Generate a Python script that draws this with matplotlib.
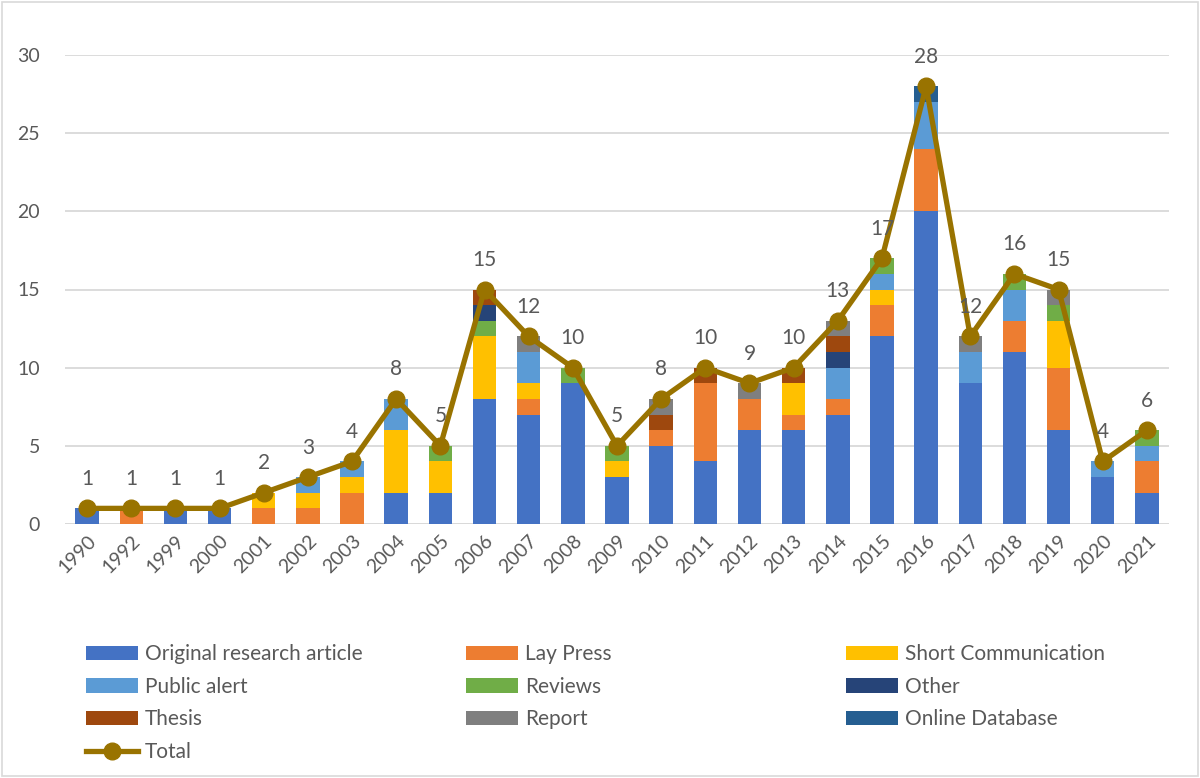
import numpy as np
import matplotlib
matplotlib.use('Agg')
import matplotlib.pyplot as plt
from matplotlib.patches import Patch, Rectangle
from matplotlib.lines import Line2D

plt.rcParams['font.family'] = ['Lato', 'DejaVu Sans']

years = ['1990', '1992', '1999', '2000', '2001', '2002', '2003', '2004', '2005', '2006',
         '2007', '2008', '2009', '2010', '2011', '2012', '2013', '2014', '2015', '2016',
         '2017', '2018', '2019', '2020', '2021']

original = [1, 0, 1, 1, 0, 0, 0, 2, 2, 8, 7, 9, 3, 5, 4, 6, 6, 7, 12, 20, 9, 11, 6, 3, 2]
lay_press = [0, 1, 0, 0, 1, 1, 2, 0, 0, 0, 1, 0, 0, 1, 5, 2, 1, 1, 2, 4, 0, 2, 4, 0, 2]
short_comm = [0, 0, 0, 0, 1, 1, 1, 4, 2, 4, 1, 0, 1, 0, 0, 0, 2, 0, 1, 0, 0, 0, 3, 0, 0]
public_alert = [0, 0, 0, 0, 0, 1, 1, 2, 0, 0, 2, 0, 0, 0, 0, 0, 0, 2, 1, 3, 2, 2, 0, 1, 1]
reviews = [0, 0, 0, 0, 0, 0, 0, 0, 1, 1, 0, 1, 1, 0, 0, 0, 0, 0, 1, 0, 0, 1, 1, 0, 1]
other = [0, 0, 0, 0, 0, 0, 0, 0, 0, 1, 0, 0, 0, 0, 0, 0, 0, 1, 0, 0, 0, 0, 0, 0, 0]
thesis = [0, 0, 0, 0, 0, 0, 0, 0, 0, 1, 0, 0, 0, 1, 1, 0, 1, 1, 0, 0, 0, 0, 0, 0, 0]
report = [0, 0, 0, 0, 0, 0, 0, 0, 0, 0, 1, 0, 0, 1, 0, 1, 0, 1, 0, 0, 1, 0, 1, 0, 0]
online_db = [0, 0, 0, 0, 0, 0, 0, 0, 0, 0, 0, 0, 0, 0, 0, 0, 0, 0, 0, 1, 0, 0, 0, 0, 0]
total = [1, 1, 1, 1, 2, 3, 4, 8, 5, 15, 12, 10, 5, 8, 10, 9, 10, 13, 17, 28, 12, 16, 15, 4, 6]

series = [
    ('Original research article', original, '#4472C4'),
    ('Lay Press', lay_press, '#ED7D31'),
    ('Short Communication', short_comm, '#FFC000'),
    ('Public alert', public_alert, '#5B9BD5'),
    ('Reviews', reviews, '#70AD47'),
    ('Other', other, '#264478'),
    ('Thesis', thesis, '#9E480E'),
    ('Report', report, '#7F7F7F'),
    ('Online Database', online_db, '#255E91'),
]
line_color = '#997300'
text_color = '#595959'
grid_color = '#D9D9D9'

fig = plt.figure(figsize=(12, 7.78), dpi=100)
ax = fig.add_axes([65 / 1200, (778 - 524) / 778, 1104 / 1200, 469 / 778])

x = np.arange(len(years))
bottom = np.zeros(len(years))
handles = {}
for name, vals, col in series:
    vals = np.array(vals, dtype=float)
    ax.bar(x, vals, 0.53, bottom=bottom, color=col, zorder=2)
    bottom += vals
    handles[name] = Patch(facecolor=col)

ax.plot(x, total, color=line_color, lw=3.8, marker='o', ms=12, zorder=3)
for xi, t in zip(x, total):
    ax.annotate(str(t), (xi, t), xytext=(0, 14), textcoords='offset points',
                ha='center', va='bottom', fontsize=15, color=text_color)

ax.set_xlim(-0.5, len(years) - 0.5)
ax.set_ylim(0, 30)
ax.set_yticks(range(0, 31, 5))
ax.set_xticks(x)
ax.set_xticklabels(years, rotation=45, ha='right', rotation_mode='anchor')
ax.tick_params(axis='both', length=0, labelsize=14, colors=text_color)
ax.tick_params(axis='x', pad=6)
ax.tick_params(axis='y', pad=18)
ax.grid(axis='y', color=grid_color, lw=1.3, zorder=0)
ax.set_axisbelow(True)
for s in ax.spines.values():
    s.set_visible(False)
ax.axhline(0, color=grid_color, lw=1.3, zorder=1)

handles['Total'] = Line2D([], [], color=line_color, lw=3.8, marker='o', ms=12)
columns = [
    ['Original research article', 'Public alert', 'Thesis', 'Total'],
    ['Lay Press', 'Reviews', 'Report'],
    ['Short Communication', 'Other', 'Online Database'],
]
for i, names in enumerate(columns):
    fig.legend([handles[n] for n in names], names, loc='upper left',
               bbox_to_anchor=((78 + 380 * i) / 1200, 1 - 636 / 778),
               frameon=False, fontsize=15, labelcolor=text_color,
               handlelength=2.5, handletextpad=0.3, labelspacing=0.6,
               borderaxespad=0)

fig.add_artist(Rectangle((0.002, 0.002), 0.996, 0.996, transform=fig.transFigure,
                         fill=False, edgecolor=grid_color, lw=1.2))

fig.savefig('out.png', dpi=100)
